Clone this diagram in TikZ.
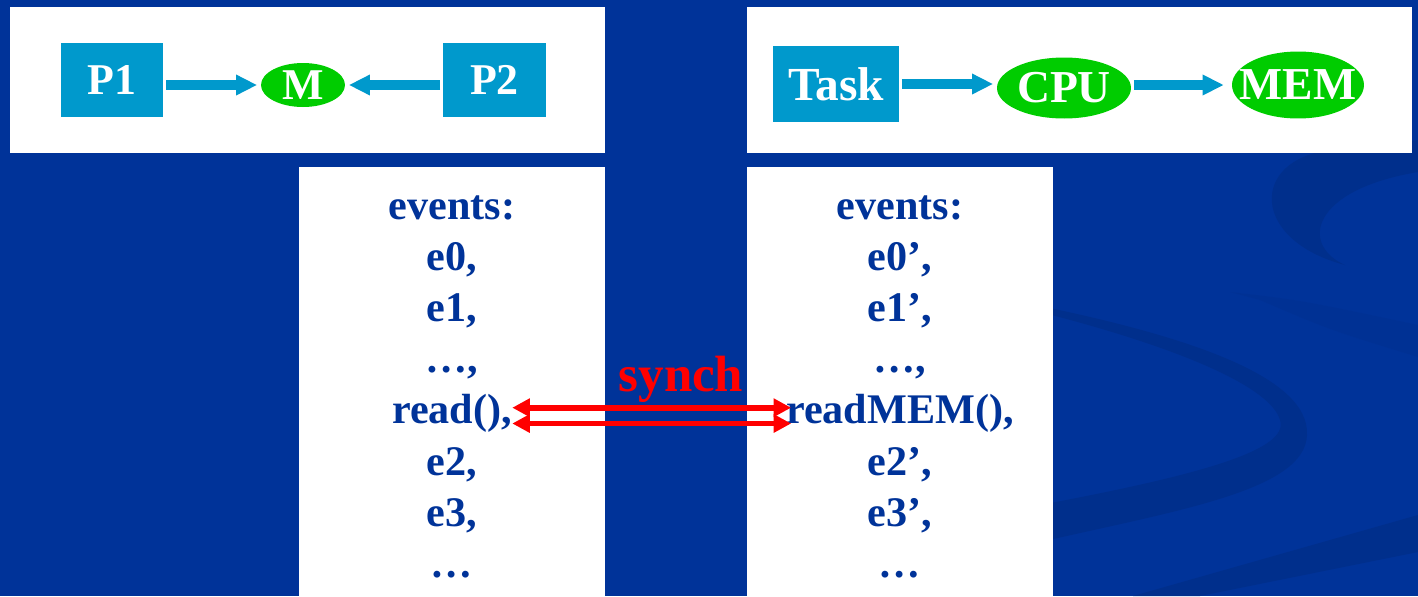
\documentclass[tikz,border=0pt]{standalone}
\usepackage{fontspec}
\setmainfont{Liberation Serif}
\usepackage{tikz}
\usetikzlibrary{shapes, positioning, arrows.meta}

\definecolor{slideblue}{HTML}{003399}
\definecolor{swooshblue}{HTML}{002F8C}
\definecolor{boxblue}{HTML}{0099CC}
\definecolor{nodegreen}{HTML}{00CC00}
\definecolor{evblue}{HTML}{003399}

\tikzset{
  procbox/.style={rectangle, fill=boxblue, text=white, inner sep=0pt,
    minimum width=2.06cm, minimum height=1.5cm, font=\bfseries\fontsize{25}{30}\selectfont},
  resnode/.style={ellipse, fill=nodegreen, text=white, inner sep=0pt,
    font=\bfseries\fontsize{25}{30}\selectfont},
  flowarrow/.style={draw=boxblue, line width=5.2pt, -{Triangle[length=12pt,width=11pt]}},
  evtext/.style={anchor=base, inner sep=0pt, text=evblue, font=\bfseries\fontsize{24}{28}\selectfont},
  syncarrow/.style={draw=red, line width=3.2pt,
    {Triangle[length=10pt,width=10pt]}-{Triangle[length=10pt,width=10pt]}},
}

\begin{document}
\begin{tikzpicture}[x=0.02cm, y=-0.02cm]
    \useasboundingbox (0,0) rectangle (1418,596);
    \fill[slideblue] (0,0) rectangle (1418,596);

    % background swooshes
    \fill[swooshblue] (1418,140) -- (1330,150) .. controls (1250,160) and (1250,240) .. (1345,265)
        .. controls (1300,245) and (1310,190) .. (1418,172) -- cycle;
    \fill[swooshblue, opacity=0.35] (1230,292) .. controls (1300,300) .. (1418,325) -- (1418,357)
        .. controls (1330,330) .. (1260,300) -- cycle;
    \fill[swooshblue] (1040,306) .. controls (1180,335) and (1310,375) .. (1307,435)
        .. controls (1305,490) and (1180,510) .. (1040,542) -- (1040,505)
        .. controls (1200,475) and (1290,450) .. (1280,420)
        .. controls (1270,385) and (1170,345) .. (1040,312) -- cycle;
    \fill[swooshblue] (1133,596) -- (1418,515) -- (1418,552) -- (1200,596) -- cycle;

    % white panels
    \fill[white] (10,7) rectangle (605,153);
    \fill[white] (747,7) rectangle (1412,153);
    \fill[white] (299,167) rectangle (605,596);
    \fill[white] (747,167) rectangle (1053,596);

    % shared memory
    \node[procbox] (p1) at (112,80) {P1};
    \node[resnode, minimum width=1.68cm, minimum height=0.88cm] (m) at (303,85) {\makebox[0pt]{M}};
    \node[procbox] (p2) at (494.5,80) {P2};

    \draw[flowarrow, shorten <=1.5pt, shorten >=2pt] (p1.east |- m.west) -- (m.west);
    \draw[flowarrow, shorten <=1.5pt, shorten >=2pt] (p2.west |- m.east) -- (m.east);

    % task on cpu
    \node[procbox, minimum width=2.52cm, minimum height=1.52cm, font=\bfseries\fontsize{27}{32}\selectfont] (task) at (836,84) {Task};
    \node[resnode, minimum width=2.68cm, minimum height=1.22cm, font=\bfseries\fontsize{26}{32}\selectfont] (cpu) at (1064,88) {\makebox[0pt]{CPU}};
    \node[resnode, minimum width=2.64cm, minimum height=1.34cm, font=\bfseries\fontsize{26}{32}\selectfont] (mem) at (1298,85) {\makebox[0pt]{MEM}};

    \draw[flowarrow, shorten <=1.5pt, shorten >=2pt] (task.east) -- (cpu.west |- task.east);
    \draw[flowarrow, shorten <=1.5pt, shorten >=4.5pt] (cpu.east |- mem.west) -- (mem.west);

    % event lists
    \node[evtext] (levents) at (452,219) {events:};
    \node[evtext] (le0) at (452,270) {e0,};
    \node[evtext] (le1) at (452,321) {e1,};
    \node[evtext] (ldots) at (452,372.5) {…,};
    \node[evtext] (lread) at (452,423.5) {read(),};
    \node[evtext] (le2) at (452,475) {e2,};
    \node[evtext] (le3) at (452,526) {e3,};
    \node[evtext] (lend) at (452,577) {…};

    \node[evtext] (revents) at (900,219) {events:};
    \node[evtext] (re0) at (900,270) {e0’,};
    \node[evtext] (re1) at (900,321) {e1’,};
    \node[evtext] (rdots) at (900,372.5) {…,};
    \node[evtext] (rread) at (900,423.5) {readMEM(),};
    \node[evtext] (re2) at (900,475) {e2’,};
    \node[evtext] (re3) at (900,526) {e3’,};
    \node[evtext] (rend) at (900,577) {…};

    % synchronisation
    \node[anchor=base, inner sep=0pt, text=red, font=\bfseries\fontsize{29}{34}\selectfont] (synch) at (681,391) {synch};
    \draw[syncarrow, shorten >=-3pt] ([yshift=9pt]lread.base east) -- ([yshift=9pt]rread.base west);
    \draw[syncarrow, shorten >=-3pt] ([yshift=0pt]lread.base east) -- ([yshift=0pt]rread.base west);
\end{tikzpicture}
\end{document}
